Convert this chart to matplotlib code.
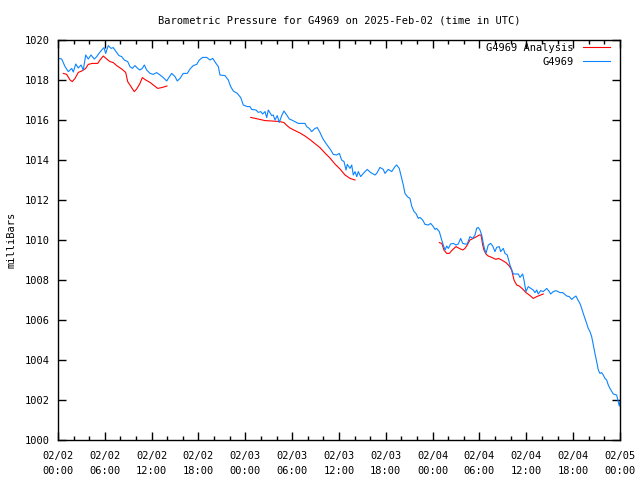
import numpy as np
import pandas as pd
import matplotlib
matplotlib.use('Agg')
import matplotlib.pyplot as plt
import matplotlib.dates as mdates

plt.rcParams['font.family'] = ['DejaVu Sans Mono']
plt.rcParams['font.size'] = 7.5

start = pd.Timestamp('2025-02-02 00:00')

# station readings: hours since 02/02 00:00 UTC, pressure (mb)
obs_hours = [0.0, 0.47, 0.9, 1.32, 1.76, 1.96, 2.27, 2.6, 2.95, 3.24, 3.55, 3.88, 4.23, 4.65, 4.96,
             5.25, 5.6, 5.89, 6.11, 6.44, 6.79, 7.08, 7.43, 7.81, 8.16, 8.49, 8.93, 9.22, 9.52, 9.86,
             10.21, 10.5, 10.8, 11.06, 11.36, 11.79, 12.21, 12.64, 13.07, 13.49, 13.93, 14.13, 14.57,
             14.99, 15.28, 15.63, 16.05, 16.56, 16.91, 17.33, 17.77, 18.1, 18.54, 19.05, 19.47, 19.82,
             20.24, 20.54, 20.75, 21.39, 21.82, 22.12, 22.46, 22.97, 23.41, 23.74, 24.25, 24.6, 24.81,
             25.37, 25.66, 25.97, 26.22, 26.52, 26.74, 26.94, 27.38, 27.58, 27.8, 28.09, 28.35, 28.66,
             28.95, 29.3, 29.63, 29.94, 30.78, 31.64, 31.86, 32.19, 32.5, 32.92, 33.22, 33.56, 33.91,
             34.33, 34.63, 34.94, 35.27, 35.7, 36.04, 36.34, 36.64, 36.9, 37.06, 37.41, 37.63, 37.83,
             38.05, 38.27, 38.47, 38.78, 39.11, 39.62, 40.06, 40.61, 40.83, 41.25, 41.67, 41.89, 42.31,
             42.75, 43.17, 43.39, 43.72, 44.03, 44.24, 44.45, 44.75, 45.09, 45.31, 45.61, 45.86, 46.16,
             46.37, 46.72, 47.02, 47.44, 47.75, 48.08, 48.3, 48.51, 48.85, 49.16, 49.36, 49.58, 49.8,
             50.0, 50.31, 50.64, 50.99, 51.28, 51.59, 51.85, 52.14, 52.43, 52.78, 53.13, 53.42, 53.64,
             53.84, 54.06, 54.28, 54.57, 54.83, 55.12, 55.43, 55.69, 55.98, 56.2, 56.53, 56.71, 57.05,
             57.26, 57.56, 57.9, 58.33, 58.97, 59.19, 59.53, 59.7, 59.95, 60.25, 60.56, 60.89, 61.11,
             61.33, 61.53, 61.84, 62.17, 62.61, 62.94, 63.12, 63.45, 63.8, 64.31, 64.66, 65.17, 65.5,
             65.81, 66.1, 66.36, 66.65, 66.87, 67.09, 67.29, 67.51, 67.73, 67.93, 68.15, 68.37, 68.58,
             68.79, 69.01, 69.22, 69.43, 69.65, 69.86, 70.07, 70.29, 70.5, 70.71, 71.14, 71.57, 71.78,
             71.91, 72.0]
obs_mb = [1019.08, 1019.05, 1018.67, 1018.42, 1018.58, 1018.4, 1018.8, 1018.6, 1018.75, 1018.5,
          1019.25, 1019.05, 1019.25, 1019.05, 1019.17, 1019.33, 1019.5, 1019.62, 1019.33, 1019.72,
          1019.58, 1019.62, 1019.42, 1019.22, 1019.17, 1019.0, 1018.92, 1018.67, 1018.58, 1018.72,
          1018.58, 1018.5, 1018.58, 1018.75, 1018.5, 1018.33, 1018.28, 1018.37, 1018.25, 1018.12,
          1017.95, 1018.08, 1018.33, 1018.17, 1017.95, 1018.08, 1018.33, 1018.33, 1018.55, 1018.72,
          1018.78, 1019.0, 1019.13, 1019.13, 1019.0, 1019.08, 1018.83, 1018.67, 1018.25, 1018.22,
          1018.0, 1017.67, 1017.45, 1017.33, 1017.12, 1016.75, 1016.67, 1016.67, 1016.53, 1016.5,
          1016.38, 1016.42, 1016.3, 1016.42, 1016.12, 1016.5, 1016.22, 1016.25, 1016.0, 1016.22,
          1015.88, 1016.22, 1016.45, 1016.25, 1016.05, 1016.0, 1015.83, 1015.83, 1015.67, 1015.58,
          1015.42, 1015.58, 1015.62, 1015.38, 1015.08, 1014.83, 1014.67, 1014.5, 1014.28, 1014.25,
          1014.33, 1014.0, 1013.92, 1013.5, 1013.78, 1013.58, 1013.75, 1013.25, 1013.42, 1013.17,
          1013.42, 1013.17, 1013.33, 1013.53, 1013.37, 1013.25, 1013.33, 1013.63, 1013.53, 1013.33,
          1013.53, 1013.42, 1013.67, 1013.75, 1013.58, 1013.08, 1012.75, 1012.33, 1012.17, 1012.08,
          1011.7, 1011.42, 1011.33, 1011.08, 1011.13, 1011.0, 1010.78, 1010.75, 1010.83, 1010.67,
          1010.53, 1010.58, 1010.42, 1010.0, 1009.75, 1009.5, 1009.7, 1009.58, 1009.8, 1009.83,
          1009.75, 1009.8, 1010.08, 1009.83, 1009.8, 1009.8, 1010.17, 1010.08, 1010.25, 1010.58,
          1010.63, 1010.5, 1010.25, 1009.67, 1009.33, 1009.75, 1009.83, 1009.7, 1009.42, 1009.63,
          1009.67, 1009.42, 1009.58, 1009.33, 1009.25, 1008.75, 1008.3, 1008.3, 1008.13, 1008.3,
          1008.0, 1007.42, 1007.67, 1007.58, 1007.5, 1007.37, 1007.5, 1007.3, 1007.47, 1007.42,
          1007.58, 1007.42, 1007.3, 1007.42, 1007.47, 1007.37, 1007.37, 1007.2, 1007.17, 1007.03,
          1007.13, 1007.2, 1006.97, 1006.83, 1006.58, 1006.33, 1006.08, 1005.83, 1005.58, 1005.42,
          1005.17, 1004.75, 1004.33, 1003.92, 1003.5, 1003.33, 1003.37, 1003.25, 1003.08, 1003.0,
          1002.75, 1002.58, 1002.3, 1002.25, 1001.92, 1001.7, 1001.92]

# analysis segments (gaps between them)
ana_hours = [
    [0.68, 1.11, 1.54, 1.83, 2.18, 2.6, 3.04, 3.55, 3.88, 4.39, 5.09, 5.38, 5.8, 6.24, 6.66, 7.08,
     7.52, 8.16, 8.67, 8.93, 9.35, 9.77, 10.08, 10.5, 10.8, 11.24, 11.79, 12.21, 12.77, 13.28,
     13.71, 13.96],
    [24.69, 25.62, 26.52, 27.41, 28.44, 28.95, 29.34, 29.72, 30.36, 31.0, 31.64, 32.28, 32.92,
     33.56, 34.2, 34.84, 35.48, 36.13, 36.77, 37.41, 38.05],
    [48.85, 49.16, 49.45, 49.8, 50.13, 50.44, 50.73, 50.99, 51.41, 51.85, 52.14, 52.43, 52.78,
     53.2, 53.64, 53.98, 54.19, 54.41, 54.57, 54.83, 55.12, 55.56, 56.11, 56.41, 56.84, 57.39,
     57.82, 58.12, 58.42, 58.76, 59.09, 59.53, 59.95, 60.38, 60.89, 61.33, 61.84, 62.17],
]
ana_mb = [
    [1018.33, 1018.28, 1018.0, 1017.92, 1018.08, 1018.38, 1018.45, 1018.58, 1018.78, 1018.83,
     1018.83, 1019.0, 1019.2, 1019.05, 1018.92, 1018.87, 1018.72, 1018.55, 1018.38, 1017.92,
     1017.67, 1017.42, 1017.55, 1017.83, 1018.12, 1018.0, 1017.88, 1017.75, 1017.58, 1017.62,
     1017.67, 1017.7],
    [1016.13, 1016.05, 1015.97, 1015.95, 1015.92, 1015.87, 1015.72, 1015.6, 1015.47, 1015.35,
     1015.2, 1015.02, 1014.82, 1014.62, 1014.35, 1014.1, 1013.8, 1013.55, 1013.25, 1013.08, 1013.0],
    [1009.87, 1009.83, 1009.5, 1009.33, 1009.33, 1009.47, 1009.58, 1009.67, 1009.58, 1009.5,
     1009.58, 1009.75, 1010.0, 1010.08, 1010.17, 1010.25, 1010.25, 1009.75, 1009.5, 1009.3,
     1009.2, 1009.13, 1009.03, 1009.08, 1009.0, 1008.87, 1008.7, 1008.5, 1008.0, 1007.75,
     1007.7, 1007.55, 1007.37, 1007.25, 1007.08, 1007.17, 1007.25, 1007.3],
]


def to_time(hours):
    return start + pd.to_timedelta(np.array(hours), unit='h')


fig = plt.figure(figsize=(6.4, 4.8), dpi=100)
ax = fig.add_axes([58 / 640, 40 / 480, 562 / 640, 400 / 480])

for i, (h, p) in enumerate(zip(ana_hours, ana_mb)):
    ax.plot(to_time(h), p, color='#ff0000', lw=0.8,
            label='G4969 Analysis' if i == 0 else None)
ax.plot(to_time(obs_hours), obs_mb, color='#0a84ff', lw=0.8, label='G4969')

ax.set_xlim(start, start + pd.Timedelta(hours=72))
ax.set_ylim(1000, 1020)
ax.set_yticks(np.arange(1000, 1021, 2))
ax.xaxis.set_major_locator(mdates.HourLocator(byhour=[0, 6, 12, 18]))
ax.xaxis.set_minor_locator(mdates.HourLocator(interval=2))
ax.xaxis.set_major_formatter(mdates.DateFormatter('%m/%d\n%H:%M'))

ax.tick_params(which='both', direction='in', top=True, right=True, width=1, labelsize=7.5)
ax.tick_params(which='major', length=6, pad=6)
ax.tick_params(axis='x', which='major', pad=8)
ax.tick_params(which='minor', length=3)
for lbl in ax.get_xticklabels():
    lbl.set_linespacing(1.6)
for s in ax.spines.values():
    s.set_linewidth(1)

ax.set_title('Barometric Pressure for G4969 on 2025-Feb-02 (time in UTC)', fontsize=7.5, pad=12)
ax.set_ylabel('milliBars', fontsize=7.5, labelpad=6)

ax.legend(loc='upper right', bbox_to_anchor=(1 - 10 / 562, 1 - 3 / 400), frameon=False,
          markerfirst=False, handlelength=2.6, fontsize=7.5, borderpad=0.0, borderaxespad=0.0,
          labelspacing=0.35, handletextpad=0.9)

fig.savefig('out.png', dpi=100)
